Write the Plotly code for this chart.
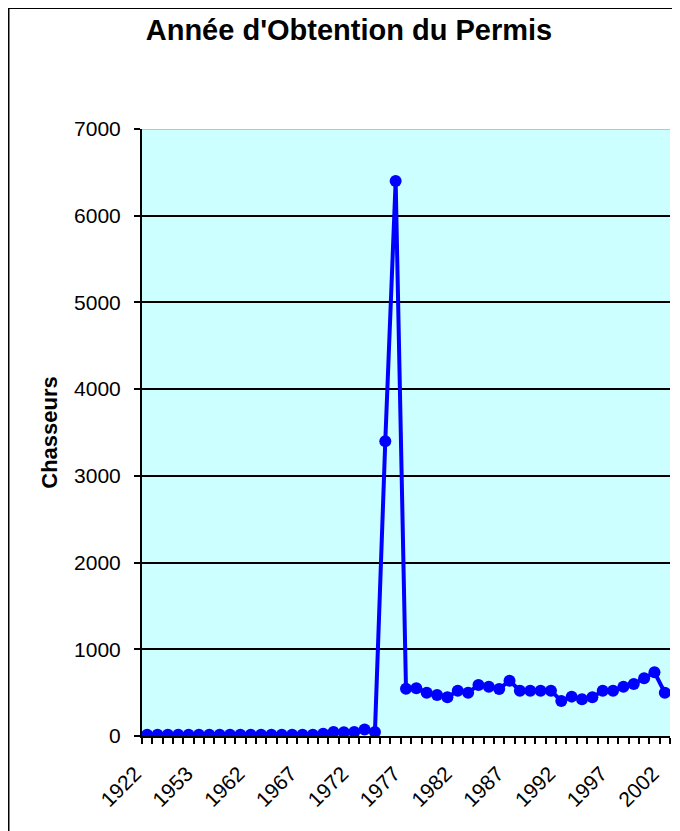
import plotly.graph_objects as go

# Categories (years of permit) - 51 categories, labels shown every 5th
years = ["1922", "1930", "1937", "1945", "1950", "1953", "1955", "1957", "1959", "1961",
         "1962", "1963", "1964", "1965", "1966", "1967", "1968", "1969", "1970", "1971",
         "1972", "1973", "1974", "1975", "1976", "1977", "1978", "1979", "1980", "1981",
         "1982", "1983", "1984", "1985", "1986", "1987", "1988", "1989", "1990", "1991",
         "1992", "1993", "1994", "1995", "1996", "1997", "1998", "1999", "2000", "2001",
         "2002"]

chasseurs = [15, 15, 15, 15, 15, 15, 15, 15, 15, 15,
             15, 15, 15, 15, 15, 15, 15, 25, 45, 42,
             45, 75, 45, 3400, 6400, 545, 550, 500, 473, 446,
             523, 500, 588, 569, 542, 638, 523, 523, 523, 523,
             404, 454, 423, 446, 523, 523, 569, 600, 665, 735,
             500]

label_years = ["1922", "1953", "1962", "1967", "1972", "1977", "1982", "1987", "1992", "1997", "2002"]
y_ticks = [0, 1000, 2000, 3000, 4000, 5000, 6000, 7000]

pos = list(range(len(years)))
tickvals = [years.index(y) for y in label_years]

FONT = "Liberation Sans, Arial, sans-serif"

# page body has an 8px margin; figure sized to end at the window edge
W, H = 672, 823
L, R, T, B = 134, 662, 121, 728  # plot area in figure pixels

def px_x(v):
    return (v - L) / (R - L)

def px_y(v):
    return (B - v) / (B - T)

fig = go.Figure()
fig.add_trace(go.Scatter(
    x=pos, y=chasseurs, mode="lines+markers",
    line=dict(color="#0000FF", width=4),
    marker=dict(size=12, color="#0000FF"),
    hovertext=years, showlegend=False,
))

fig.update_layout(
    width=W, height=H,
    margin=dict(l=L, r=W - R, t=T, b=H - B, pad=0),
    paper_bgcolor="white",
    plot_bgcolor="#CCFFFF",
    font=dict(family=FONT, color="black"),
    title=dict(text="<b>Année d'Obtention du Permis</b>",
               font=dict(family=FONT, size=29, color="black"),
               x=341 / W, xanchor="center", xref="container",
               y=(H - 22) / H, yanchor="middle", yref="container"),
    xaxis=dict(
        range=[-0.5, len(years) - 0.5],
        tickmode="array", tickvals=tickvals, ticktext=label_years,
        tickangle=-45, tickfont=dict(size=21),
        ticks="", showgrid=False, zeroline=False,
        showline=True, linecolor="black", linewidth=2,
        minor=dict(tickmode="linear", tick0=-0.5, dtick=1, ticks="outside",
                   ticklen=6, tickwidth=1.5, tickcolor="black", showgrid=False),
        automargin=False, ticklabelstandoff=15, ticklabelshift=-12,
    ),
    yaxis=dict(
        range=[0, 7000], tickmode="array", tickvals=y_ticks,
        tickfont=dict(size=21),
        ticks="outside", ticklen=6, tickwidth=1.5, tickcolor="black",
        showgrid=True, gridcolor="black", gridwidth=1.5,
        zeroline=False, showline=True, linecolor="black", linewidth=2,
        title=dict(text="<b>Chasseurs</b>", font=dict(size=22), standoff=10),
        automargin=False, ticklabelstandoff=9,
    ),
    shapes=[
        dict(type="line", xref="paper", x0=0, x1=1, yref="y", y0=7000, y1=7000,
             line=dict(color="#9fd0d0", width=2), layer="above"),
        # outer chart frame (top and left edges visible in the window)
        dict(type="line", xref="paper", yref="paper",
             x0=px_x(0), x1=px_x(W + 10), y0=px_y(0), y1=px_y(0),
             line=dict(color="black", width=2), layer="above"),
        dict(type="line", xref="paper", yref="paper",
             x0=px_x(0.5), x1=px_x(0.5), y0=px_y(0), y1=px_y(H + 10),
             line=dict(color="black", width=2), layer="above"),
    ],
)

fig.write_html("out.html")
